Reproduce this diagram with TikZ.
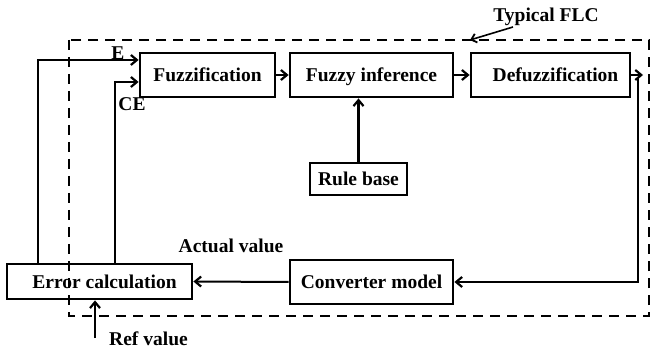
\documentclass[tikz,border=0pt]{standalone}
\usepackage{fontspec}
\setmainfont{Liberation Serif}
\usetikzlibrary{arrows.meta}
\begin{document}
\begin{tikzpicture}[x=1pt,y=-1pt,
  blk/.style={draw, line width=2.8pt, inner sep=0pt, text height=13pt, text depth=0pt, font=\fontsize{19.5}{22}\selectfont\bfseries},
  lbl/.style={inner sep=0pt, font=\fontsize{19.5}{22}\selectfont\bfseries},
  conn/.style={line width=2pt, -{Straight Barb[length=6pt,width=10pt,line width=2.2pt]}},
  thinconn/.style={line width=1.6pt, -{Straight Barb[length=5pt,width=9pt,line width=1.8pt]}},
  dashbox/.style={line width=2.8pt, dash pattern=on 10pt off 7pt}
]
\useasboundingbox (0,0) rectangle (652,352);
\draw[dashbox] (69,40) rectangle (649,316);

\node[blk, minimum width=135pt, minimum height=44pt] (fuzz) at (207.5,75) {Fuzzification};
\node[blk, minimum width=163pt, minimum height=44pt] (inf) at (371.5,75) {Fuzzy inference};
\node[blk, minimum width=159pt, minimum height=44pt] (defuzz) at (550.5,75) {\hspace{10pt}Defuzzification};
\node[blk, minimum width=97pt, minimum height=32pt] (rule) at (358.5,179) {Rule base};
\node[blk, minimum width=185pt, minimum height=35pt] (err) at (99.5,281.5) {\hspace{10pt}Error calculation};
\node[blk, minimum width=163pt, minimum height=44pt] (conv) at (371.5,282) {Converter model};

\node[lbl] (elbl) at (118,53) {E};
\node[lbl] (celbl) at (132,104) {CE};
\node[lbl] (actual) at (231,246) {Actual value};
\node[lbl] (ref) at (148.5,339) {Ref value};
\node[lbl] (flc) at (546,17) {Typical FLC};

\coordinate (refstart) at (95,338);
\coordinate (flcarrow) at (513,27);
\coordinate (flctip) at (470,40);
\coordinate (outtip) at (643,75);
\coordinate (outdown) at (638,77);

\draw[conn] ([xshift=-61.5pt]err.north) |- ([yshift=15pt]fuzz.west);
\draw[conn] ([xshift=15.5pt]err.north) |- ([yshift=-7pt]fuzz.west);
\draw[conn] (fuzz.east) -- (inf.west);
\draw[conn] (inf.east) -- (defuzz.west);
\draw[conn] (defuzz.east) -- (outtip);
\draw[conn] (outdown) |- (conv.east);
\draw[conn] (conv.west) -- (err.east);
\draw[conn, line width=2.6pt] (rule.north) -- (rule.north |- inf.south);
\draw[conn, line width=2.6pt] (refstart) -- (refstart |- err.south);
\draw[thinconn] (flcarrow) -- (flctip);
\end{tikzpicture}
\end{document}
